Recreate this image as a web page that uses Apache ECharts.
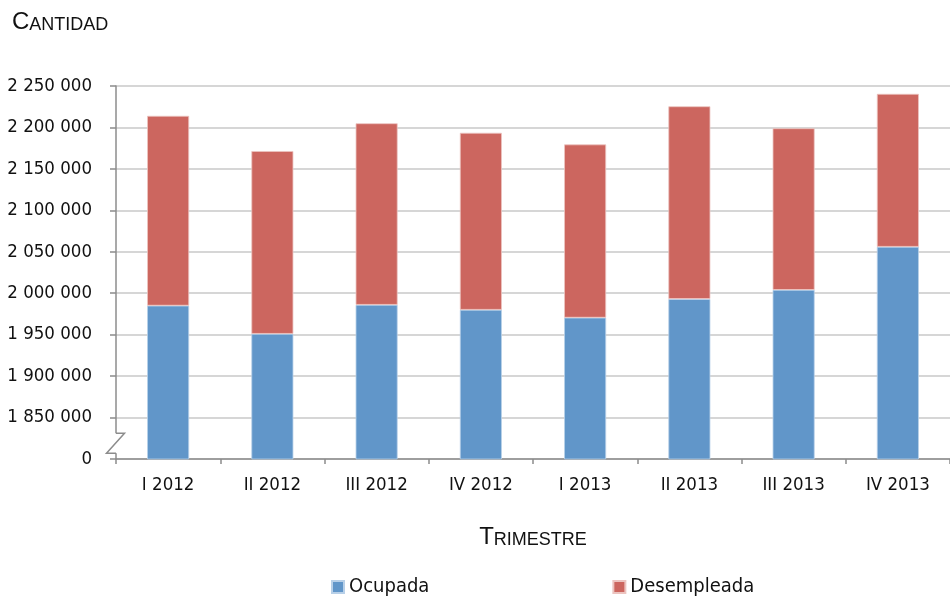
<!DOCTYPE html>
<html>
<head>
<meta charset="utf-8">
<script src="https://cdn.jsdelivr.net/npm/echarts@6/dist/echarts.min.js"></script>
<style>
  html, body { margin: 0; padding: 0; background: #fff; }
  #chart { width: 950px; height: 598px; }
</style>
</head>
<body>
<div id="chart"></div>
<script>
// trimestres
const categories = ['I 2012', 'II 2012', 'III 2012', 'IV 2012', 'I 2013', 'II 2013', 'III 2013', 'IV 2013']
// poblacion ocupada / desempleada
const ocupada = [1985000, 1951000, 1986000, 1980000, 1970500, 1993000, 2004000, 2056000]
const desempleada = [229000, 220500, 219000, 213500, 209000, 232500, 195000, 184500]
// eje y cortado: 1 800 000 se muestra como 0
const yMin = 1800000
const yMax = 2250000
const yStep = 50000

const chart = echarts.init(document.getElementById('chart'))

const NARROW = "'DejaVu Sans Condensed', 'Liberation Sans Narrow', 'Liberation Sans', sans-serif"
const fmt = v => v === yMin ? '0' : String(v).replace(/\B(?=(\d{3})+(?!\d))/g, ' ')

const smallCaps = {
  big: { fontFamily: 'Liberation Sans', fontSize: 24, fontWeight: 'normal', color: '#111', verticalAlign: 'bottom' },
  small: { fontFamily: 'Liberation Sans', fontSize: 18, fontWeight: 'normal', color: '#111', verticalAlign: 'bottom' }
}

const option = {
  animation: false,
  backgroundColor: '#fff',
  title: {
    text: '{big|C}{small|ANTIDAD}',
    left: 7,
    top: 5,
    textStyle: { fontWeight: 'normal', rich: smallCaps }
  },
  grid: { left: 116, top: 86, width: 840, bottom: 139 },
  legend: {
    left: 326,
    top: 572,
    itemWidth: 12,
    itemHeight: 12,
    itemGap: 183,
    icon: 'rect',
    textStyle: { fontFamily: NARROW, fontSize: 20, color: '#111', padding: [0, 0, 0, 0] },
    data: ['Ocupada', 'Desempleada']
  },
  xAxis: {
    type: 'category',
    data: categories,
    name: '{big|T}{small|RIMESTRE}',
    nameLocation: 'middle',
    nameGap: 66,
    nameTextStyle: { rich: smallCaps },
    axisLine: { lineStyle: { color: '#8c8c8c', width: 1.5 } },
    axisTick: { show: true, length: 5, lineStyle: { color: '#8c8c8c', width: 1.5 } },
    axisLabel: { fontFamily: NARROW, fontSize: 18.5, color: '#111', margin: 17 }
  },
  yAxis: {
    type: 'value',
    min: yMin,
    max: yMax,
    interval: yStep,
    axisLine: { show: true, lineStyle: { color: '#8c8c8c', width: 1.5 } },
    axisTick: { show: true, length: 6, lineStyle: { color: '#8c8c8c', width: 1.5 } },
    axisLabel: { fontFamily: NARROW, fontSize: 18.5, color: '#111', margin: 24, formatter: fmt },
    splitLine: { lineStyle: { color: '#c8c8c8', width: 1.5 } }
  },
  series: [
    {
      name: 'Ocupada',
      type: 'bar',
      stack: 'total',
      barWidth: 42,
      data: ocupada,
      itemStyle: { color: '#6196c9', borderColor: '#b8d0e8', borderWidth: 0.8 }
    },
    {
      name: 'Desempleada',
      type: 'bar',
      stack: 'total',
      barWidth: 42,
      data: desempleada,
      itemStyle: { color: '#cc665f', borderColor: '#ecc4c0', borderWidth: 0.8 }
    }
  ]
}

chart.setOption(option)

// marca de corte del eje (zigzag)
const yTop = chart.convertToPixel({ yAxisIndex: 0 }, 1831000)
const yBot = chart.convertToPixel({ yAxisIndex: 0 }, 1807000)
const x0 = chart.getModel().getComponent('grid').coordinateSystem.getRect().x
chart.setOption({
  graphic: [
    {
      type: 'rect',
      shape: { x: x0 - 2, y: yTop, width: 4, height: yBot - yTop },
      style: { fill: '#fff' },
      z: 100
    },
    {
      type: 'polyline',
      shape: { points: [[x0, yTop], [x0 + 8.5, yTop], [x0 - 9.5, yBot], [x0, yBot]] },
      style: { stroke: '#8c8c8c', lineWidth: 1.5, fill: null },
      z: 101
    }
  ]
})
</script>
</body>
</html>
